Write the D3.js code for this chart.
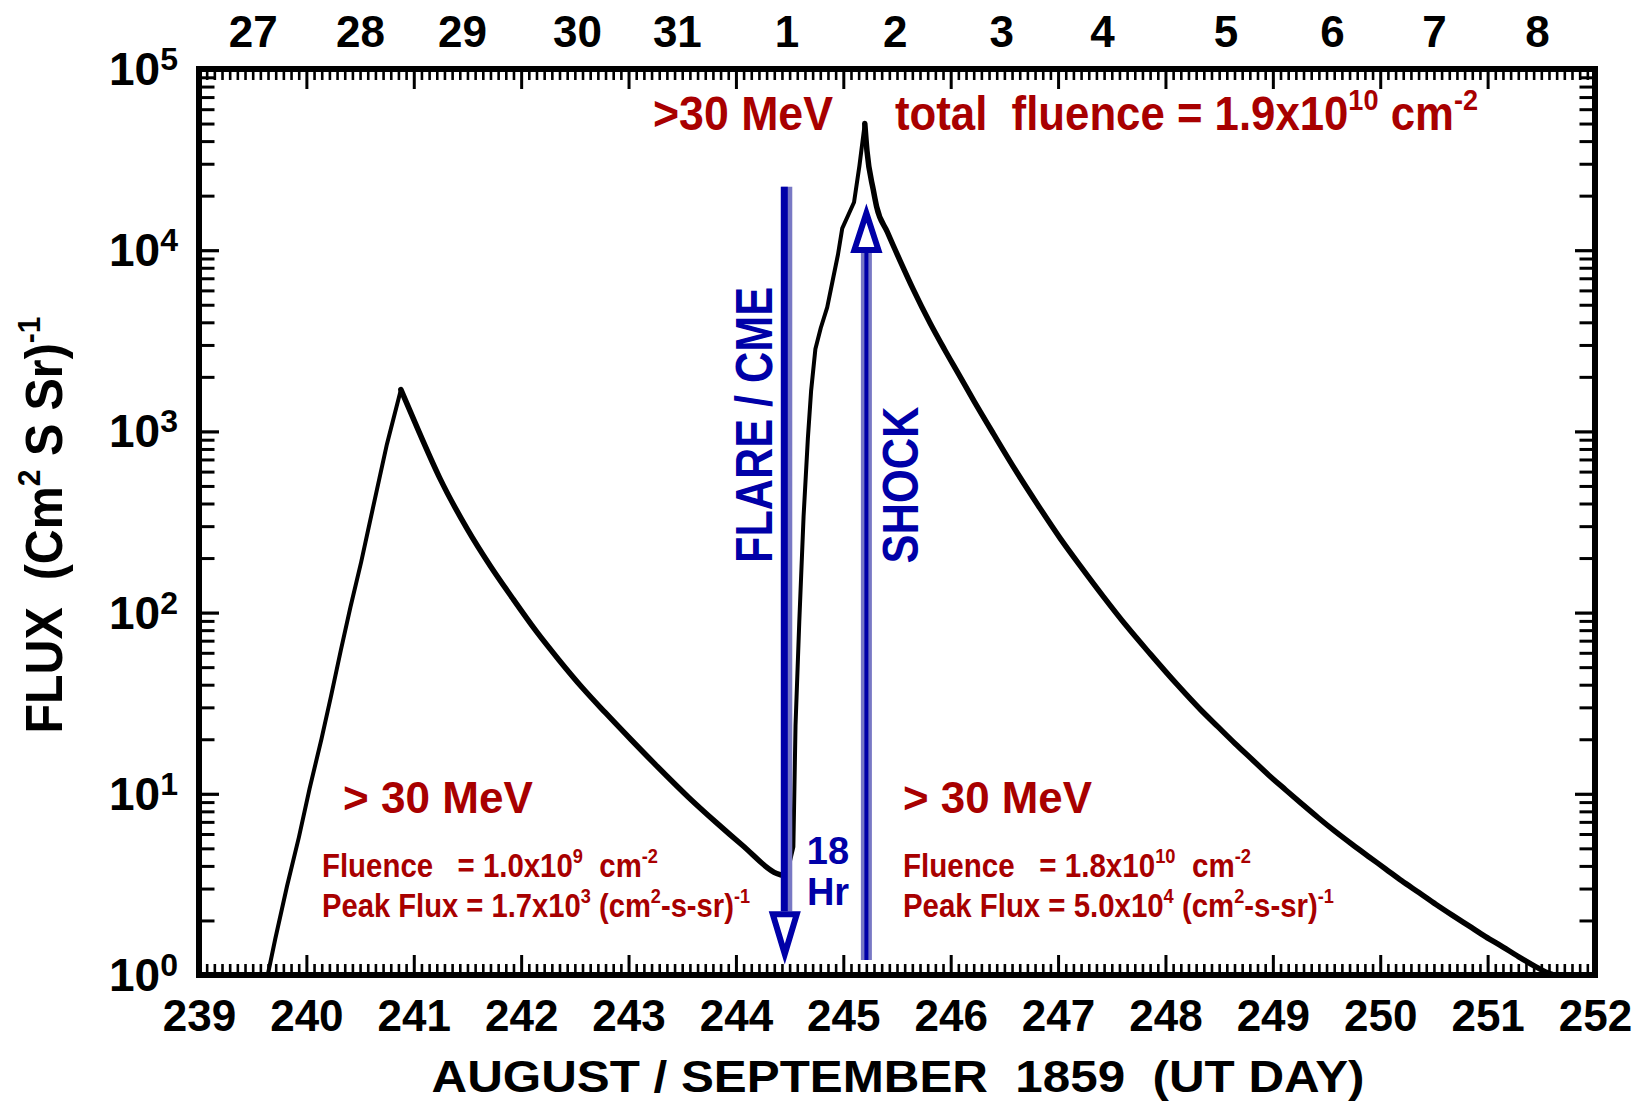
<!DOCTYPE html>
<html><head><meta charset="utf-8">
<script src="https://cdn.jsdelivr.net/npm/d3@7"></script>
<style>
html,body{margin:0;padding:0;background:#fff;}
svg{display:block;}
</style></head><body><svg id="chart" width="1643" height="1105"></svg>
<script>
// ---------- data ----------
const utDay = [239.64,239.71,239.82,239.93,240.03,240.14,240.23,240.32,240.41,240.51,240.58,240.68,240.75,240.88,
  241.05,241.24,241.50,241.71,241.92,242.14,242.35,242.57,242.78,243.02,243.27,243.56,243.81,244.06,244.38,244.47,
  244.535,244.555,244.59,244.63,244.67,244.70,244.74,244.79,244.85,244.90,244.95,244.99,245.10,245.15,245.20,
  245.22,245.28,245.31,245.41,245.53,245.65,245.81,245.94,246.07,246.22,246.40,246.62,246.81,247.02,247.21,247.42,
  247.64,247.86,248.11,248.33,248.49,248.65,248.80,248.96,249.12,249.27,249.42,249.58,249.74,249.90,250.05,250.20,
  250.36,250.52,250.67,250.83,250.98,251.14,251.29,251.45,251.54,251.62];
const flux = [1.0,1.58,3.1,5.75,10.7,20,34.7,61.7,107,190,295,550,850,1700,
  990,556,288,182,120,79,55,38.5,28.2,20,14.1,9.55,7.0,5.2,3.63,3.5,
  5.1,23.8,89,339,915,1670,2850,3720,4840,6760,9440,13200,18400,29200,50000,
  35500,21400,17400,12600,8710,6100,3940,2850,2090,1460,966,589,394,257,180,123,
  84,59,40,29,23.4,18.9,15.6,12.7,10.5,8.8,7.4,6.2,5.25,4.47,3.85,3.31,
  2.85,2.45,2.14,1.86,1.63,1.43,1.26,1.11,1.04,1.0];

const bottomTicks = d3.range(239, 253);
const topDayLabels = ["27","28","29","30","31","1","2","3","4","5","6","7","8"];
const topDayPos = [239.5,240.5,241.45,242.52,243.45,244.47,245.48,246.47,247.41,248.56,249.55,250.5,251.46];
const decades = [1,10,100,1000,1e4,1e5];
const decadeExp = ["0","1","2","3","4","5"];
const minorPerDay = 14;

// annotation anchors (data coords)
const flareDay = 244.455, flareTop = 22400, flareHeadBase = 2.25, flareTip = 1.21;
const shockDay = 245.215, shockBottom = 1.21, shockHeadBase = 9660, shockTip = 17300;

// ---------- setup ----------
const svg = d3.select("#chart");
const FONT = "'Liberation Sans', Arial, Helvetica, sans-serif";
const red = "#a80000", blue = "#0000a8", blueLight = "#7878c4";
const plot = {left:199, right:1595, top:69, bottom:975};
const x = d3.scaleLinear().domain([239,252]).range([plot.left, plot.right]);
const y = d3.scaleLog().domain([1,1e5]).range([plot.bottom, plot.top]);

function styleAxis(g, w){
  g.select(".domain").remove();
  g.selectAll(".tick line").attr("stroke","#000").attr("stroke-width",w);
  g.attr("font-family",FONT).attr("font-weight","bold");
}

const minorX = d3.range(0, 13*minorPerDay+1).filter(i=>i%minorPerDay!==0).map(i=>239+i/minorPerDay);
const minorY = [];
for (let d=0; d<5; d++) for (let k=2;k<=9;k++) minorY.push(k*Math.pow(10,d));

// bottom
svg.append("g").attr("transform",`translate(0,${plot.bottom})`)
  .call(d3.axisBottom(x).tickValues(minorX).tickSize(-11).tickFormat(""))
  .call(g=>styleAxis(g,2.6));
svg.append("g").attr("transform",`translate(0,${plot.bottom})`)
  .call(d3.axisBottom(x).tickValues(bottomTicks).tickSize(-20).tickPadding(25).tickFormat(d3.format("d")))
  .call(g=>styleAxis(g,3))
  .call(g=>g.selectAll("text").attr("font-size",44).attr("fill","#000"));
// top
svg.append("g").attr("transform",`translate(0,${plot.top})`)
  .call(d3.axisTop(x).tickValues(minorX).tickSize(-11).tickFormat(""))
  .call(g=>styleAxis(g,2.6));
svg.append("g").attr("transform",`translate(0,${plot.top})`)
  .call(d3.axisTop(x).tickValues(bottomTicks).tickSize(-20).tickFormat(""))
  .call(g=>styleAxis(g,3));
svg.append("g").attr("transform",`translate(0,${plot.top})`)
  .call(d3.axisTop(x).tickValues(topDayPos).tickSize(0).tickPadding(22).tickFormat((d,i)=>topDayLabels[i]))
  .call(g=>styleAxis(g,0))
  .call(g=>g.selectAll("text").attr("font-size",44).attr("fill","#000"));
// left / right
[[d3.axisLeft, plot.left],[d3.axisRight, plot.right]].forEach(([ax,pos])=>{
  svg.append("g").attr("transform",`translate(${pos},0)`)
    .call(ax(y).tickValues(minorY).tickSize(-15.5).tickFormat(""))
    .call(g=>styleAxis(g,3));
  svg.append("g").attr("transform",`translate(${pos},0)`)
    .call(ax(y).tickValues(decades).tickSize(-20).tickFormat(""))
    .call(g=>styleAxis(g,3.2));
});
// left labels 10^n
svg.append("g").selectAll("text").data(decades).join("text")
  .attr("x",178).attr("y",d=>y(d)+16)
  .attr("text-anchor","end").attr("font-family",FONT).attr("font-weight","bold").attr("font-size",46)
  .each(function(d,i){
    const t=d3.select(this);
    t.append("tspan").text("10");
    t.append("tspan").attr("font-size",32).attr("dy",-15).text(decadeExp[i]);
  });

// ---------- curve: split into rising (linear) and decaying (smooth) runs ----------
const pts = utDay.map((d,i)=>[d, flux[i]]);
const runs = [];
let start = 0;
for (let i=1;i<pts.length-1;i++){
  const up1 = pts[i][1] > pts[i-1][1], up2 = pts[i+1][1] > pts[i][1];
  if (up1 !== up2){ runs.push({pts:pts.slice(start,i+1), up:up1}); start = i; }
}
runs.push({pts:pts.slice(start), up: pts[pts.length-1][1] > pts[start][1]});
runs.forEach(r=>{
  svg.append("path").datum(r.pts)
    .attr("d", d3.line().x(d=>x(d[0])).y(d=>y(d[1])).curve(r.up ? d3.curveLinear : d3.curveMonotoneX))
    .attr("fill","none").attr("stroke","#000").attr("stroke-width", r.up ? 4 : 5.5)
    .attr("stroke-linejoin","round").attr("stroke-linecap","round");
});

// ---------- arrows ----------
const fx = x(flareDay);
svg.append("line").attr("x1",fx+2).attr("x2",fx+2).attr("y1",y(flareTop)).attr("y2",y(flareHeadBase))
  .attr("stroke",blueLight).attr("stroke-width",11);
svg.append("line").attr("x1",fx-0.5).attr("x2",fx-0.5).attr("y1",y(flareTop)).attr("y2",y(flareHeadBase))
  .attr("stroke",blue).attr("stroke-width",7);
svg.append("polygon")
  .attr("points",[[fx-12,y(flareHeadBase)+3],[fx+12,y(flareHeadBase)+3],[fx,y(flareTip)-6]].map(p=>p.join(",")).join(" "))
  .attr("fill","#fff").attr("stroke",blue).attr("stroke-width",6).attr("stroke-linejoin","miter");

const sx = x(shockDay);
svg.append("line").attr("x1",sx).attr("x2",sx).attr("y1",y(shockBottom)).attr("y2",y(shockHeadBase))
  .attr("stroke",blueLight).attr("stroke-width",11);
svg.append("line").attr("x1",sx).attr("x2",sx).attr("y1",y(shockBottom)).attr("y2",y(shockHeadBase))
  .attr("stroke",blue).attr("stroke-width",4);
svg.append("polygon")
  .attr("points",[[sx-12,y(shockHeadBase)-3],[sx+12,y(shockHeadBase)-3],[sx,y(shockTip)+6]].map(p=>p.join(",")).join(" "))
  .attr("fill","#fff").attr("stroke",blue).attr("stroke-width",6).attr("stroke-linejoin","miter");

// ---------- text helpers ----------
function rich(g, parts, opt){
  const t = g.append("text").attr("x",opt.x).attr("y",opt.y)
    .attr("font-family",FONT).attr("font-weight","bold").attr("font-size",opt.fs)
    .attr("fill",opt.fill).style("white-space","pre");
  if (opt.anchor) t.attr("text-anchor",opt.anchor);
  if (opt.len) t.attr("textLength",opt.len).attr("lengthAdjust","spacingAndGlyphs");
  if (opt.transform) t.attr("transform",opt.transform);
  let off = 0;
  parts.forEach(p=>{
    const sup = Array.isArray(p);
    const s = sup ? p[0] : p;
    const target = sup ? -0.42*opt.fs : 0;
    const ts = t.append("tspan").text(s).attr("dy", target-off);
    if (sup) ts.attr("font-size", 0.62*opt.fs);
    off = target;
  });
  return t;
}
const g = svg.append("g");

// axis titles
rich(g, ["FLUX  (Cm",["2"]," S Sr)",["-1"]], {x:0,y:0,fs:52,fill:"#000",anchor:"middle",len:417,
  transform:"translate(62,525) rotate(-90)"});
rich(g, ["AUGUST / SEPTEMBER  1859  (UT DAY)"], {x:898,y:1092,fs:44,fill:"#000",anchor:"middle",len:933});

// top title
rich(g, [">30 MeV"], {x:653,y:130,fs:48,fill:red,len:180});
rich(g, ["total  fluence = 1.9x10",["10"]," cm",["-2"]], {x:895,y:130,fs:48,fill:red,len:583});

// left block
rich(g, ["> 30 MeV"], {x:343,y:813,fs:44,fill:red,len:190});
rich(g, ["Fluence   = 1.0x10",["9"],"  cm",["-2"]], {x:322,y:877,fs:34,fill:red,len:336});
rich(g, ["Peak Flux = 1.7x10",["3"]," (cm",["2"],"-s-sr)",["-1"]], {x:322,y:917,fs:34,fill:red,len:428});
// right block
rich(g, ["> 30 MeV"], {x:903,y:813,fs:44,fill:red,len:189});
rich(g, ["Fluence   = 1.8x10",["10"],"  cm",["-2"]], {x:903,y:877,fs:34,fill:red,len:348});
rich(g, ["Peak Flux = 5.0x10",["4"]," (cm",["2"],"-s-sr)",["-1"]], {x:903,y:917,fs:34,fill:red,len:431});

// blue labels
rich(g, ["FLARE / CME"], {x:0,y:0,fs:52,fill:blue,anchor:"middle",len:276,transform:"translate(772,425) rotate(-90)"});
rich(g, ["SHOCK"], {x:0,y:0,fs:50,fill:blue,anchor:"middle",len:157,transform:"translate(918,485) rotate(-90)"});
rich(g, ["18"], {x:828,y:864,fs:38,fill:blue,anchor:"middle"});
rich(g, ["Hr"], {x:828,y:905,fs:38,fill:blue,anchor:"middle"});

// ---------- frame ----------
svg.append("rect").attr("x",plot.left).attr("y",plot.top)
  .attr("width",plot.right-plot.left).attr("height",plot.bottom-plot.top)
  .attr("fill","none").attr("stroke","#000").attr("stroke-width",6);
</script></body></html>
